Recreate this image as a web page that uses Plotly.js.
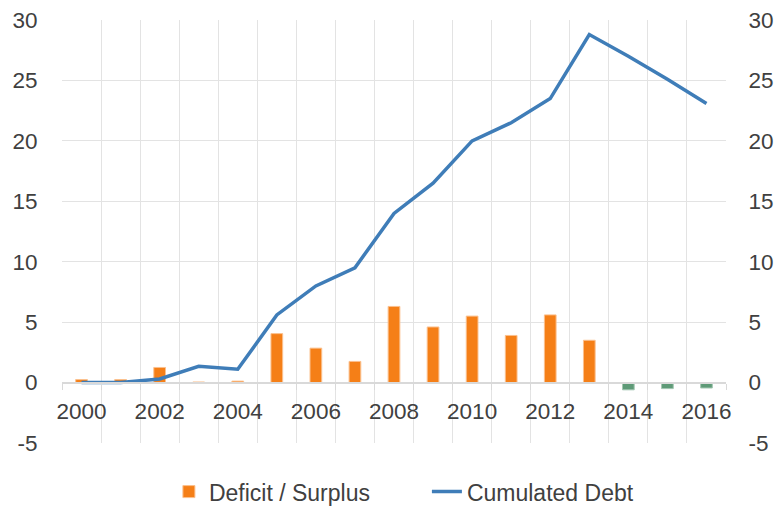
<!DOCTYPE html>
<html>
<head>
<meta charset="utf-8">
<script src="https://cdn.plot.ly/plotly-3.0.1.min.js"></script>
<style>html,body{margin:0;padding:0;background:#fff;}#chart{width:775px;height:506px;}</style>
</head>
<body>
<div id="chart"></div>
<script>
const years = [2000,2001,2002,2003,2004,2005,2006,2007,2008,2009,2010,2011,2012,2013,2014,2015,2016];
const deficitSurplus = [0.25,0.25,1.25,0.05,0.12,4.05,2.85,1.75,6.3,4.6,5.5,3.9,5.6,3.5,-0.6,-0.5,-0.45];
const cumulatedDebt = [0,0,0.3,1.35,1.1,5.6,8.0,9.5,14.0,16.5,20.0,21.5,23.5,28.8,27.0,25.1,23.1];
const yTicks = [-5,0,5,10,15,20,25,30];
const xTickLabels = [2000,2002,2004,2006,2008,2010,2012,2014,2016];

const orange = '#F57F17', green = '#5E9A77', blue = '#3F7DB8';
const barColors = deficitSurplus.map(v => v >= 0 ? orange : green);
const barLines = deficitSurplus.map(v => v >= 0 ? '#FBC08E' : '#A3C7B2');
const font = {family: '"Liberation Sans", Arial, sans-serif', size: 22.5, color: '#404040'};
const legendFont = {family: '"Liberation Sans", Arial, sans-serif', size: 23, color: '#404040'};

const traces = [
  {type:'bar', name:'Deficit / Surplus', x: years, y: deficitSurplus, width: 0.3,
   marker:{color: barColors, line:{color: barLines, width: 1}}, yaxis:'y', hoverinfo:'x+y'},
  {type:'scatter', mode:'lines', name:'Cumulated Debt', x: years, y: cumulatedDebt,
   line:{color: blue, width: 3.5}, yaxis:'y2'}
];

const zeroPos = (0 - (-5)) / (30 - (-5));
const layout = {
  width: 775, height: 506,
  margin: {l: 62, r: 49, t: 20, b: 63, autoexpand: false},
  paper_bgcolor: '#fff', plot_bgcolor: '#fff',
  font: font,
  showlegend: true,
  legend: {orientation:'h', x: 0.161, xanchor:'left', y: -0.115, yanchor:'middle', font: legendFont,
           traceorder:'normal', entrywidth: 213, entrywidthmode:'pixels'},
  xaxis: {
    type:'linear', range:[1999.5, 2016.5], tickmode:'array', tickvals: xTickLabels, ticktext: xTickLabels.map(String),
    showgrid:false, zeroline:false, anchor:'free', position: zeroPos,
    showline:true, linecolor:'#D9D9D9', linewidth:2,
    ticks:'outside', ticklen:8, tickcolor:'rgba(0,0,0,0)',
    tickfont: font, automargin:false,
    minor: {tick0: 1999.5, dtick: 1, showgrid: true, gridcolor:'#E3E3E3', gridwidth:1, ticks:'outside', ticklen:6, tickcolor:'#D9D9D9'}
  },
  yaxis: {
    range:[-5, 30], tickmode:'array', tickvals: yTicks, ticktext: yTicks.map(String), showgrid:true, gridcolor:'#E3E3E3', gridwidth:1,
    zeroline:false, ticks:'outside', ticklen:19, tickcolor:'rgba(0,0,0,0)', tickfont: font, showline:false, automargin:false
  },
  yaxis2: {
    range:[-5, 30], tickmode:'array', tickvals: yTicks, ticktext: yTicks.map(String), overlaying:'y', side:'right', showgrid:false,
    zeroline:false, ticks:'outside', ticklen:17, tickcolor:'rgba(0,0,0,0)', tickfont: font, showline:false, automargin:false
  },
  bargap: 0
};

Plotly.newPlot('chart', traces, layout, {displayModeBar:false, staticPlot:true});
</script>
</body>
</html>
